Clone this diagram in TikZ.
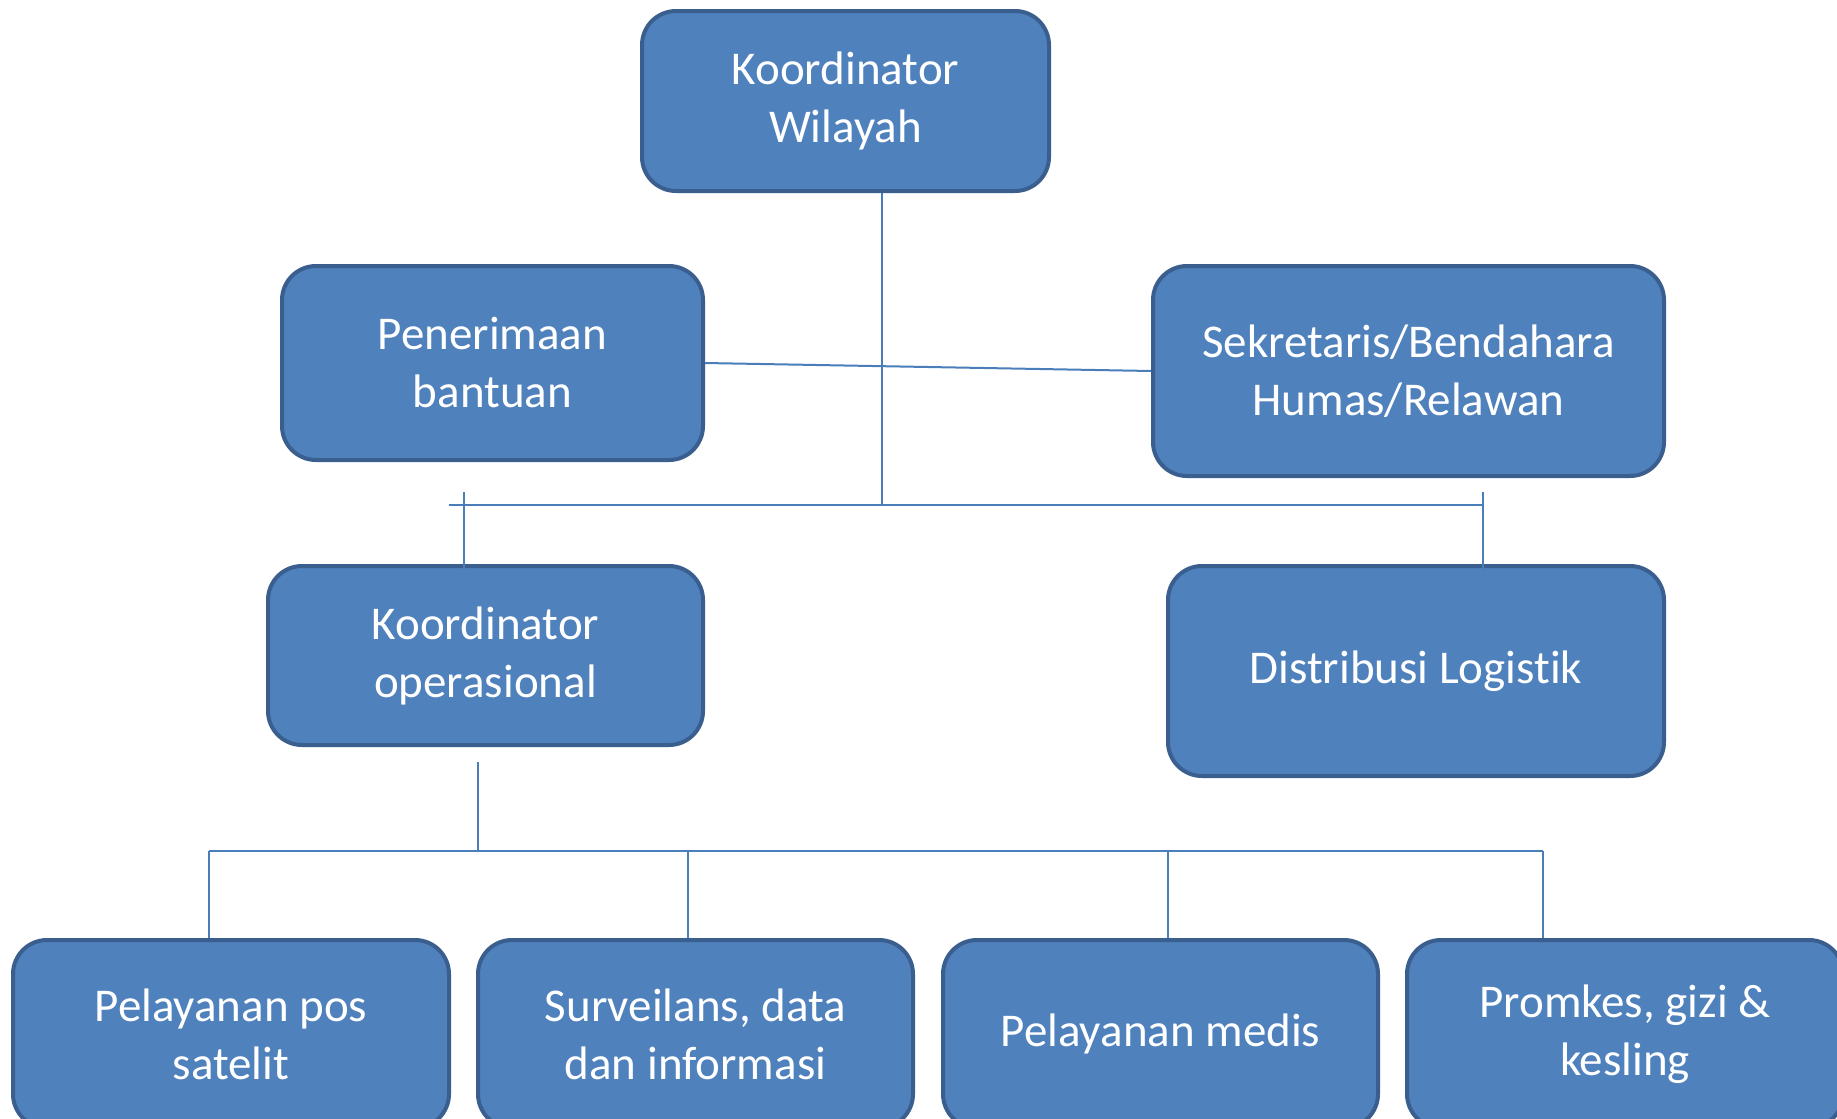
\documentclass[tikz,border=0pt]{standalone}
\usepackage{fontspec}
\setmainfont[Ligatures=NoCommon,RawFeature=-liga]{Carlito}
\begin{document}
\begin{tikzpicture}[x=0.5pt,y=-0.5pt,
  box/.style={draw=boxline,fill=boxfill,line width=2pt,rounded corners=17pt,
    text=white,align=center,font=\fontsize{23.5}{29}\selectfont,inner sep=0pt},
  conn/.style={draw=connline,line width=1pt}]
\definecolor{boxfill}{HTML}{4F81BD}
\definecolor{boxline}{HTML}{3A5F8E}
\definecolor{connline}{HTML}{4A7EBB}
\useasboundingbox (0,0) rectangle (1837,1119);
\clip (0,0) rectangle (1837,1119);
\node[box,minimum width=203.5pt,minimum height=90pt] (kw) at (845.5,101) {Koordinator\\Wilayah};
\node[box,minimum width=210.5pt,minimum height=97pt] (pb) at (492.5,363) {Penerimaan\\bantuan};
\node[box,minimum width=255.5pt,minimum height=105pt] (sb) at (1408.5,371) {Sekretaris/Bendahara\\Humas/Relawan};
\node[box,minimum width=217.5pt,minimum height=89.5pt] (ko) at (485.5,655.5) {Koordinator\\operasional};
\node[box,minimum width=248pt,minimum height=105pt] (dl) at (1416,671) {Distribusi Logistik};
\node[box,minimum width=218pt,minimum height=94pt] (p1) at (231,1034) {Pelayanan pos\\satelit};
\node[box,minimum width=217.5pt,minimum height=94pt] (p2) at (695.5,1034) {Surveilans, data\\dan informasi};
\node[box,minimum width=217.5pt,minimum height=94pt] (p3) at (1160.5,1034) {Pelayanan medis};
\node[box,minimum width=218pt,minimum height=94pt] (p4) at (1625,1034) {Promkes, gizi \&\\kesling};
% junction coordinates
\coordinate (j1) at (882,505);
\coordinate (bl) at (449,505);
\coordinate (br) at (1483,505);
\coordinate (tl) at (464,492);
\coordinate (tr) at (1483,492);
\coordinate (kob) at (478,762);
\coordinate (j2) at (478,851);
\coordinate (b2l) at (209,851);
\coordinate (b2r) at (1543,851);
\coordinate (d2) at (688,851);
\coordinate (d3) at (1168,851);
% connectors
\draw[conn] (kw.south -| j1) -- (j1);
\draw[conn] (pb.east) -- (sb.west);
\draw[conn] (bl) -- (br);
\draw[conn] (tl) -- ([yshift=-4pt]ko.north -| tl);
\draw[conn] (tr) -- ([yshift=-4pt]dl.north -| tr);
\draw[conn] (kob) -- (j2);
\draw[conn] (b2l) -- (b2r);
\draw[conn] (b2l) -- (p1.north -| b2l);
\draw[conn] (d2) -- (p2.north -| d2);
\draw[conn] (d3) -- (p3.north -| d3);
\draw[conn] (b2r) -- (p4.north -| b2r);
\end{tikzpicture}
\end{document}
